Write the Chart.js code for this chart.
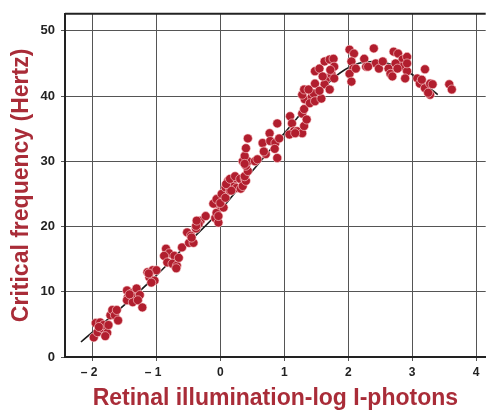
<!DOCTYPE html>
<html>
<head>
<meta charset="utf-8">
<title>Critical frequency vs retinal illumination</title>
<script src="https://cdn.jsdelivr.net/npm/chart.js@4.4.1/dist/chart.umd.min.js"></script>
<style>
  html, body { margin: 0; padding: 0; background: #fff; }
  #wrap { width: 491px; height: 412px; }
</style>
</head>
<body>
<div id="wrap"><canvas id="cff" width="491" height="412"></canvas></div>
<script>
// Measured flicker fusion points: log illumination (x) and critical frequency in Hz (y)
const logI = [
  -1.98, -1.95, -1.92, -1.88, -1.85, -1.83, -1.77, -1.75, -1.90, -1.80,
  -1.72, -1.69, -1.65, -1.62, -1.60,
  -1.46, -1.38, -1.31, -1.45, -1.34, -1.26, -1.46, -1.37, -1.29, -1.22, -1.42,
  -1.14, -1.06, -1.00, -1.11, -1.03, -1.08, -1.12,
  -0.85, -0.80, -0.72, -0.88, -0.83, -0.75, -0.68, -0.69, -0.65,
  -0.60, -0.52, -0.46, -0.38, -0.31, -0.23, -0.49, -0.42, -0.45, -0.34, -0.38, -0.37,
  -0.08, -0.03, -0.06, 0.00, -0.08, -0.11, 0.05, -0.06, 0.00, 0.02, 0.08, -0.03,
  0.08, 0.15, 0.12, 0.20, 0.23, 0.25, 0.17, 0.09, 0.15, 0.23, 0.31, 0.32, 0.35, 0.38, 0.40,
  0.38, 0.43, 0.40, 0.35, 0.43, 0.38, 0.40, 0.43, 0.38,
  0.54, 0.58, 0.66, 0.71, 0.77, 0.78, 0.86, 0.92, 0.89, 0.85, 0.89, 0.68,
  1.09, 1.12, 1.15, 1.20, 1.08, 1.28, 1.17, 1.28, 1.31, 1.31, 1.35, 1.32,
  1.43, 1.40, 1.46, 1.48, 1.28, 1.31, 1.38, 1.58, 1.48, 1.48, 1.55, 1.63, 1.71, 1.77,
  1.66, 1.74, 1.63, 1.71, 1.78, 1.78, 1.55, 1.60, 1.72,
  2.02, 2.09, 2.05, 2.08, 2.02, 2.05, 2.12,
  2.25, 2.28, 2.40, 2.43, 2.48, 2.54, 2.31,
  2.63, 2.66, 2.69, 2.71, 2.78, 2.85, 2.92, 2.82, 2.92, 2.89, 2.74, 2.92, 2.77,
  3.08, 3.12, 3.20, 3.20, 3.28, 3.28, 3.32, 3.15, 3.25,
  3.58, 3.62
];
const cffHz = [
  3.0, 5.2, 3.8, 5.3, 4.4, 4.9, 3.7, 4.9, 4.6, 3.2,
  6.4, 7.2, 6.4, 7.2, 5.6,
  10.2, 9.8, 10.5, 9.1, 9.1, 9.5, 8.7, 8.4, 8.7, 7.6, 9.6,
  13.0, 13.3, 13.3, 12.2, 11.7, 11.4, 12.8,
  16.6, 15.9, 15.5, 15.5, 14.5, 14.3, 14.0, 13.6, 15.2,
  16.8, 19.1, 18.6, 19.7, 20.9, 21.6, 17.5, 17.5, 18.3, 20.4, 20.1, 20.9,
  21.3, 20.6, 22.1, 23.2, 23.5, 23.5, 22.9, 24.2, 23.6, 25.0, 24.4, 21.6,
  26.0, 25.5, 27.0, 26.7, 27.4, 25.9, 25.5, 26.5, 27.3, 27.7, 27.3, 25.8, 26.2, 27.4, 27.0,
  27.7, 28.5, 29.3, 30.0, 30.0, 30.8, 32.0, 33.5, 29.6,
  30.0, 30.3, 32.8, 31.1, 34.3, 33.1, 32.8, 33.5, 35.8, 31.9, 30.5, 31.5,
  36.9, 35.8, 34.6, 34.6, 34.1, 34.3, 34.3, 37.3, 38.0, 35.4, 36.4, 39.5,
  39.9, 38.9, 40.4, 39.2, 40.2, 41.0, 41.0, 39.6, 41.9, 43.8, 44.2, 45.3, 45.6, 45.7,
  42.7, 43.3, 41.8, 41.0, 42.7, 44.5, 40.8, 43.0, 44.0,
  47.1, 46.5, 45.3, 44.2, 43.4, 42.2, 44.2,
  45.7, 44.5, 47.3, 45.0, 44.2, 45.3, 44.5,
  44.2, 43.4, 43.0, 46.8, 46.5, 45.6, 46.0, 44.5, 43.8, 42.7, 45.0, 45.0, 44.2,
  42.7, 41.9, 44.1, 41.2, 41.9, 40.2, 41.8, 42.5, 40.5,
  41.8, 41.0
];

// Hand-fitted smooth curve through the cloud
const fitX = [-2.18, -1.5, -1.0, -0.5, 0.0, 0.5, 1.0, 1.5, 1.8, 2.1, 2.4, 2.7, 3.0, 3.2, 3.4];
const fitY = [2.3, 8.0, 12.5, 17.5, 22.5, 28.5, 34.3, 40.0, 43.0, 44.8, 45.3, 44.8, 43.3, 41.8, 40.2];

const xTicks = [-2, -1, 0, 1, 2, 3, 4];
const yTicks = [0, 10, 20, 30, 40, 50];

const RED_TEXT = '#a92c38';
const DOT = '#b11e2e';
const FONT = 'Liberation Sans, Arial, sans-serif';

// top edge of the frame
const frameTop = {
  id: 'frameTop',
  afterDraw(chart) {
    const { ctx, chartArea } = chart;
    ctx.save();
    ctx.strokeStyle = '#222';
    ctx.lineWidth = 2;
    ctx.beginPath();
    ctx.moveTo(chartArea.left, chartArea.top);
    ctx.lineTo(chartArea.right, chartArea.top);
    ctx.stroke();
    ctx.restore();
  }
};

new Chart(document.getElementById('cff'), {
  type: 'scatter',
  data: {
    datasets: [
      {
        label: 'measured',
        data: logI.map((x, i) => ({ x: x, y: cffHz[i] })),
        backgroundColor: DOT,
        borderColor: 'rgba(255, 215, 215, 0.75)',
        borderWidth: 0.8,
        pointRadius: 4.5,
        pointHoverRadius: 4.5,
        order: 1
      },
      {
        type: 'line',
        label: 'fit',
        data: fitX.map((x, i) => ({ x: x, y: fitY[i] })),
        borderColor: '#1b1b1b',
        borderWidth: 1.6,
        pointRadius: 0,
        fill: false,
        cubicInterpolationMode: 'monotone',
        order: 2
      }
    ]
  },
  options: {
    responsive: false,
    animation: false,
    events: [],
    layout: { padding: { top: 12, right: 0, left: 0, bottom: 0 } },
    plugins: {
      legend: { display: false },
      tooltip: { enabled: false }
    },
    scales: {
      x: {
        type: 'linear',
        min: -2.43,
        max: 4.15,
        afterBuildTicks: s => { s.ticks = xTicks.map(v => ({ value: v })); },
        afterFit: s => { s.height = 55; },
        grid: { color: '#555', lineWidth: 1, tickLength: 4, drawTicks: true },
        border: { color: '#222', width: 2 },
        ticks: {
          color: '#222',
          padding: 4,
          maxRotation: 0,
          font: { family: FONT, size: 12, weight: 'bold' },
          callback: v => v < 0 ? '\u2013 ' + Math.abs(v) + '  ' : String(v)
        },
        title: {
          display: true,
          text: 'Retinal illumination-log I-photons',
          color: RED_TEXT,
          padding: { top: 0, bottom: 0 },
          font: { family: FONT, size: 23, weight: 'bold' }
        }
      },
      y: {
        type: 'linear',
        min: 0,
        max: 52.6,
        afterBuildTicks: s => { s.ticks = yTicks.map(v => ({ value: v })); },
        afterFit: s => { s.width = 65; },
        grid: { color: '#555', lineWidth: 1, tickLength: 4, drawTicks: true },
        border: { color: '#222', width: 2 },
        ticks: {
          color: '#222',
          padding: 6,
          font: { family: FONT, size: 13, weight: 'bold' }
        },
        title: {
          display: true,
          text: 'Critical frequency (Hertz)',
          color: RED_TEXT,
          padding: { top: 8, bottom: 0 },
          font: { family: FONT, size: 23, weight: 'bold' }
        }
      }
    }
  },
  plugins: [frameTop]
});
</script>
</body>
</html>
